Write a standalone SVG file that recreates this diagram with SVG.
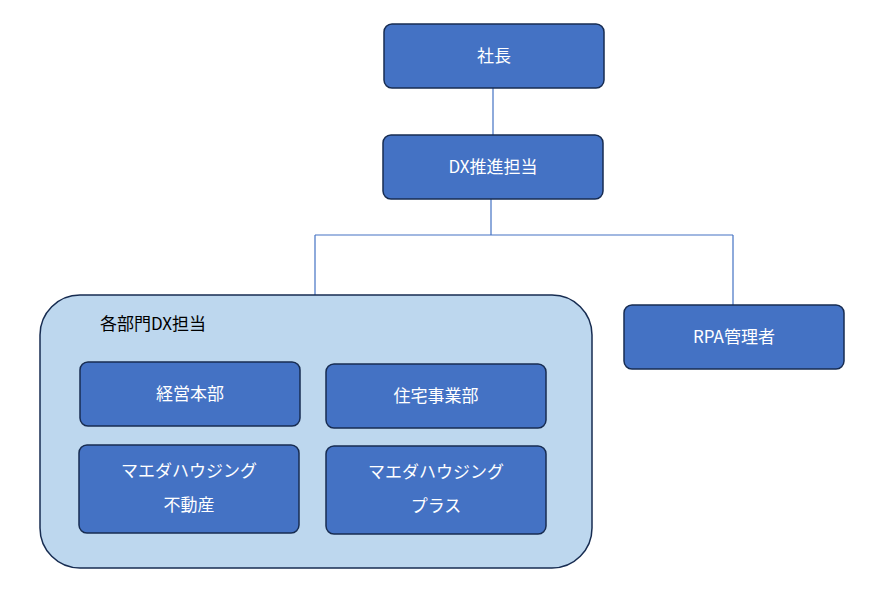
<svg xmlns="http://www.w3.org/2000/svg" width="880" height="596" viewBox="0 0 880 596">
<style>
.n{fill:#4472c4;stroke:#172c51;stroke-width:1.5}
.t{font-family:"Noto Sans CJK JP","Noto Sans",sans-serif;font-size:17px;fill:#fff;text-anchor:middle}
.c{stroke:#4472c4;stroke-width:1.2;fill:none}
</style>
<rect width="880" height="596" fill="#fff"/>
<g id="connectors">
<path class="c" d="M493 88V135M491 199V235M315 235H733M315 235V295M733 235V305"/>
</g>
<g id="president"><rect class="n" x="384" y="24" width="220" height="64" rx="8"/><text class="t" x="494" y="62">社長</text></g>
<g id="dx"><rect class="n" x="383" y="135" width="220" height="64" rx="8"/><text class="t" x="493" y="173">DX推進担当</text></g>
<g id="group"><rect x="40" y="295" width="552" height="273" rx="40" fill="#bdd7ee" stroke="#172c51" stroke-width="1.5"/><text x="100" y="330" font-family="Noto Sans CJK JP,sans-serif" font-size="17" fill="#000">各部門DX担当</text></g>
<g id="rpa"><rect class="n" x="624" y="305" width="220" height="64" rx="8"/><text class="t" x="734" y="343">RPA管理者</text></g>
<g id="keiei"><rect class="n" x="80" y="362" width="220" height="64" rx="8"/><text class="t" x="190" y="400">経営本部</text></g>
<g id="jutaku"><rect class="n" x="326" y="364" width="220" height="64" rx="8"/><text class="t" x="436" y="402">住宅事業部</text></g>
<g id="fudosan"><rect class="n" x="79" y="445" width="220" height="88" rx="8"/><text class="t" x="189" y="477">マエダハウジング</text><text class="t" x="189" y="511">不動産</text></g>
<g id="plus"><rect class="n" x="326" y="446" width="220" height="88" rx="8"/><text class="t" x="436" y="478">マエダハウジング</text><text class="t" x="436" y="512">プラス</text></g>
</svg>
